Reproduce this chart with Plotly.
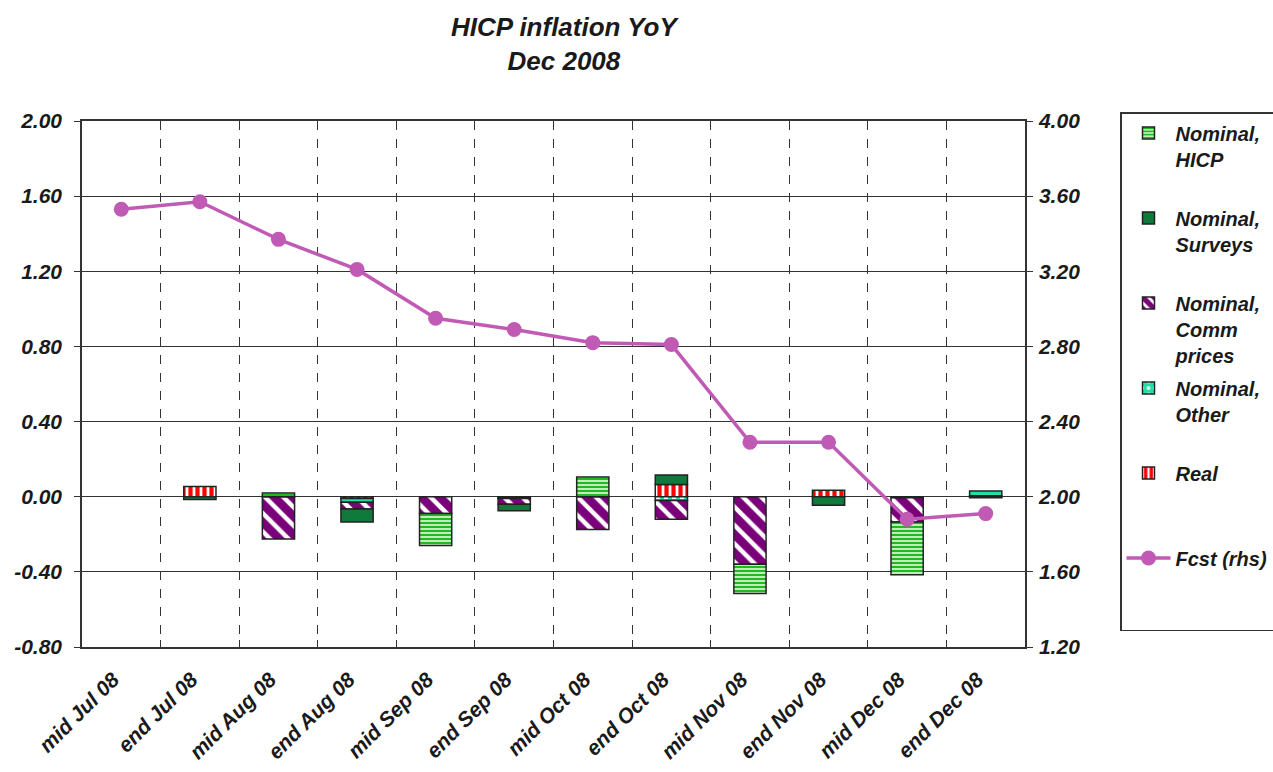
import plotly.graph_objects as go

categories = ["mid Jul 08", "end Jul 08", "mid Aug 08", "end Aug 08", "mid Sep 08", "end Sep 08",
              "mid Oct 08", "end Oct 08", "mid Nov 08", "end Nov 08", "mid Dec 08", "end Dec 08"]

nominal_hicp = [None, None, 0.02, None, -0.17, None, 0.105, None, -0.155, None, -0.28, None]
nominal_surveys = [None, -0.015, None, -0.07, None, -0.035, None, 0.05, None, -0.045, None, -0.005]
nominal_comm = [None, None, -0.225, -0.035, -0.09, -0.03, -0.175, -0.1, -0.36, None, -0.13, None]
nominal_other = [None, None, None, -0.02, None, -0.005, None, -0.02, None, None, None, 0.025]
real = [None, 0.055, None, -0.01, None, -0.005, None, 0.065, None, 0.035, -0.005, 0.005]
fcst = [3.53, 3.57, 3.37, 3.21, 2.95, 2.89, 2.82, 2.81, 2.29, 2.29, 1.88, 1.91]

left_ticks = [-0.8, -0.4, 0.0, 0.4, 0.8, 1.2, 1.6, 2.0]
left_labels = ["-0.80", "-0.40", "0.00", "0.40", "0.80", "1.20", "1.60", "2.00"]
right_ticks = [1.2, 1.6, 2.0, 2.4, 2.8, 3.2, 3.6, 4.0]
right_labels = ["1.20", "1.60", "2.00", "2.40", "2.80", "3.20", "3.60", "4.00"]

FONT = "Liberation Sans, Arial, sans-serif"
fnt = dict(family=FONT, size=21, color="#1a1a1a", weight="bold", style="italic")
xfnt = dict(family=FONT, size=21, color="#1a1a1a", weight="bold", style="italic")
outline = dict(color="#222222", width=1.5)
B1 = "<br>\u00a0"
PAD = "\u00a0\u00a0"

fig = go.Figure()

# stacking order: first trace closest to zero
fig.add_trace(go.Bar(
    x=categories, y=real, name="Real" + B1 + B1, legendrank=5, legendgroup="r",
    marker=dict(color="white", line=outline,
                pattern=dict(shape="|", fgcolor="#ff0000", bgcolor="white", fgopacity=1,
                             size=7, solidity=0.6))))
fig.add_trace(go.Bar(
    x=categories, y=nominal_other, name="Nominal,<br>Other" + B1, legendrank=4, legendgroup="o",
    marker=dict(color="white", line=outline,
                pattern=dict(shape="+", fgcolor="#20e0a8", bgcolor="white", fgopacity=1,
                             size=8, solidity=0.75))))
fig.add_trace(go.Bar(
    x=categories, y=nominal_comm, name="Nominal,<br>Comm<br>prices", legendrank=3, legendgroup="c",
    marker=dict(color="white", line=outline,
                pattern=dict(shape="\\", fgcolor="#7a007a", bgcolor="white", fgopacity=1,
                             size=13, solidity=0.65))))
fig.add_trace(go.Bar(
    x=categories, y=nominal_surveys, name="Nominal,<br>Surveys" + B1, legendrank=2, legendgroup="s",
    marker=dict(color="#0f7a3c", line=outline)))
fig.add_trace(go.Bar(
    x=categories, y=nominal_hicp, name="Nominal,<br>HICP" + B1, legendrank=1, legendgroup="h",
    marker=dict(color="#d0f6c8", line=outline,
                pattern=dict(shape="-", fgcolor="#22b822", bgcolor="#d0f6c8", fgopacity=1,
                             size=4, solidity=0.55))))
fig.add_trace(go.Scatter(
    x=categories, y=fcst, name="Fcst (rhs)" + B1 + B1, legendrank=6, legendgroup="f", yaxis="y2",
    mode="lines+markers", line=dict(color="#c05ab4", width=3.5),
    marker=dict(color="#c05ab4", size=15)))

fig.update_layout(
    width=1273, height=772,
    margin=dict(l=82, r=248, t=121, b=125, autoexpand=False),
    paper_bgcolor="white", plot_bgcolor="white",
    barmode="relative", bargap=0.59,
    font=fnt,
    annotations=[dict(text="HICP inflation YoY<br>Dec 2008", x=(565 - 82) / 943, xref="paper",
                      y=(647 - 10) / 526, yref="paper", xanchor="center", yanchor="top",
                      showarrow=False,
                      font=dict(family=FONT, size=26, color="#1a1a1a", weight="bold", style="italic"))],
    xaxis=dict(type="category", range=[-0.5, 11.5], tickson="boundaries", tickangle=-45,
               tickvals=categories, ticktext=[c + PAD for c in categories],
               showgrid=True, gridcolor="#333333", griddash="dash", gridwidth=1,
               ticks="inside", ticklen=7, tickcolor="#333333",
               showline=True, linecolor="#333333", linewidth=1.5, mirror="ticks",
               tickfont=xfnt, automargin=False, ticklabelstandoff=2),
    yaxis=dict(range=[-0.8, 2.0], tickvals=left_ticks, ticktext=left_labels,
               showgrid=True, gridcolor="#333333", gridwidth=1,
               zeroline=True, zerolinecolor="#333333", zerolinewidth=1,
               ticks="outside", ticklen=6, tickcolor="#333333",
               showline=True, linecolor="#333333", linewidth=1.5, mirror=True,
               tickfont=fnt, automargin=False, ticklabelstandoff=8),
    yaxis2=dict(range=[1.2, 4.0], tickvals=right_ticks, ticktext=right_labels, overlaying="y", side="right",
                showgrid=False, zeroline=False,
                ticks="outside", ticklen=6, tickcolor="#333333",
                showline=True, linecolor="#333333", linewidth=1.5,
                tickfont=fnt, automargin=False, ticklabelstandoff=2),
    legend=dict(x=(1120 - 82) / 943, xanchor="left", y=(647 - 112) / 526, yanchor="top",
                bordercolor="#333333", borderwidth=1.5, bgcolor="white",
                valign="top", tracegroupgap=4, itemwidth=44, maxheight=1.0,
                font=dict(family=FONT, size=20, color="#1a1a1a", weight="bold", style="italic")),
    showlegend=True,
)

fig.write_html("out.html", config={"displayModeBar": False},
               post_script="document.body.style.margin='0';")
